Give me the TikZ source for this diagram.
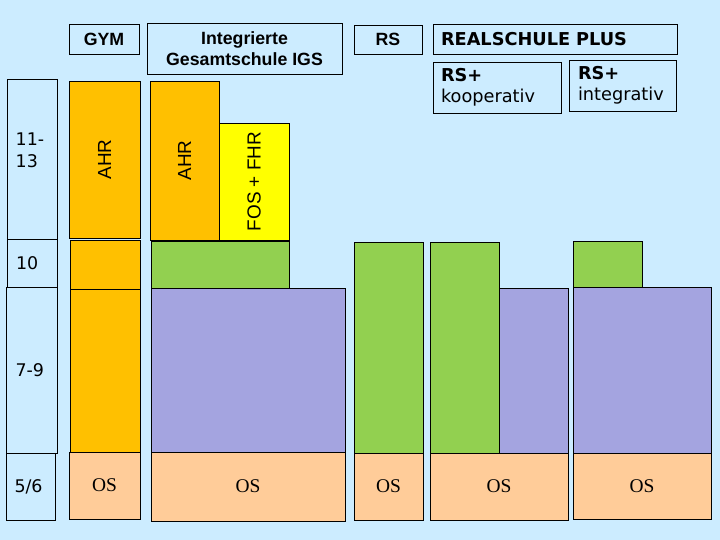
\documentclass[tikz,border=0pt]{standalone}
\usepackage{fontspec}
\setmainfont{Liberation Sans}
\newfontfamily\verdfont{DejaVu Sans}
\newfontfamily\timesfont{Liberation Serif}
\usepackage{xcolor}
\usepackage{tikz}
\usetikzlibrary{positioning}

\definecolor{bgblue}{HTML}{CCECFF}
\definecolor{ahrorange}{HTML}{FFC000}
\definecolor{fosyellow}{HTML}{FFFF00}
\definecolor{rsgreen}{HTML}{92D050}
\definecolor{igspurple}{HTML}{A4A4E0}
\definecolor{ospeach}{HTML}{FFCC99}

\begin{document}
\begin{tikzpicture}[
      x=1bp, y=-1bp,
      span/.style n args={4}{at={({(#1+#3)/2},{(#2+#4)/2})},
        minimum width={(#3-#1)*1bp}, minimum height={(#4-#2)*1bp}},
      blk/.style={draw=black, line width=0.9bp, inner sep=0pt},
      head/.style={blk, fill=bgblue, align=center, font=\fontsize{17.8}{21}\selectfont\bfseries},
      vhead/.style={blk, fill=bgblue, align=left, font=\verdfont\fontsize{17.8}{21}\selectfont},
      gradetext/.style={align=left, inner sep=0pt, font=\verdfont\fontsize{17.5}{22}\selectfont},
      grade/.style={blk, fill=bgblue, gradetext, text width=32bp},
      ahr/.style={blk, fill=ahrorange},
      fos/.style={blk, fill=fosyellow},
      green/.style={blk, fill=rsgreen},
      purple/.style={blk, fill=igspurple},
      os/.style={blk, fill=ospeach, font=\timesfont\fontsize{19.5}{20}\selectfont},
      vtext/.style={rotate=90, inner sep=0pt, font=\fontsize{19}{20}\selectfont}
    ]
      \fill[bgblue] (0,0) rectangle (720,540);
      \useasboundingbox (0,0) rectangle (720,540);

      % Headers
      \node[head, span={69}{24}{139}{54}] (hGym) {GYM};
      \node[head, span={147}{23}{342}{74}] (hIgs) {Integrierte\\Gesamtschule IGS};
      \node[head, span={354}{25}{422}{54}] (hRs) {RS};
      \node[vhead, text width=228bp, span={433}{24}{677}{54}] (hRsp) {\textbf{REALSCHULE PLUS}};
      \node[vhead, text width=112bp, span={433}{62}{561}{113}] (hKoop) {\textbf{RS+}\\kooperativ};
      \node[vhead, text width=89bp, span={569}{60}{676}{111}] (hInt) {\textbf{RS+}\\integrativ};

      % Grades
      \node[grade, span={7}{79}{57}{239}] (g1113) {};
      \node[gradetext, anchor=west] (t1113) at ([xshift=9bp, yshift=9bp]g1113.west) {11-\\13};
      \node[grade, span={7}{239}{57}{287}] (g10) {10};
      \node[grade, span={6}{287}{57}{453}] (g79) {7-9};
      \node[grade, span={6}{453}{55}{520}] (g56) {5/6};

      % GYM
      \node[ahr, span={69}{81}{140}{238}] (gymAhr) {};
      \node[vtext] (gymAhrT) at (gymAhr) {AHR};
      \node[ahr, span={70}{240}{140}{289}] (gym10) {};
      \node[ahr, span={70}{289}{140}{452}] (gym79) {};
      \node[os, span={69}{452}{140}{519}] (gymOs) {OS};

      % IGS
      \node[ahr, span={150}{81}{219}{240}] (igsAhr) {};
      \node[vtext] (igsAhrT) at (igsAhr) {AHR};
      \node[fos, span={219}{123}{289}{240}] (igsFos) {};
      \node[vtext] (igsFosT) at (igsFos) {FOS + FHR};
      \node[green, span={151}{241}{289}{288}] (igs10) {};
      \node[purple, span={151}{288}{345}{452}] (igs79) {};
      \node[os, span={151}{452}{345}{521}] (igsOs) {OS};

      % RS
      \node[green, span={354}{242}{423}{453}] (rsGreen) {};
      \node[os, span={354}{453}{423}{520}] (rsOs) {OS};

      % RS+ kooperativ
      \node[green, span={430}{242}{499}{453}] (koopGreen) {};
      \node[purple, span={499}{288}{568}{453}] (koopPurple) {};
      \node[os, span={430}{453}{568}{520}] (koopOs) {OS};

      % RS+ integrativ
      \node[green, span={573}{241}{642}{288}] (intGreen) {};
      \node[purple, span={573}{287}{711}{453}] (intPurple) {};
      \node[os, span={573}{453}{711}{519}] (intOs) {OS};
    \end{tikzpicture}
\end{document}
